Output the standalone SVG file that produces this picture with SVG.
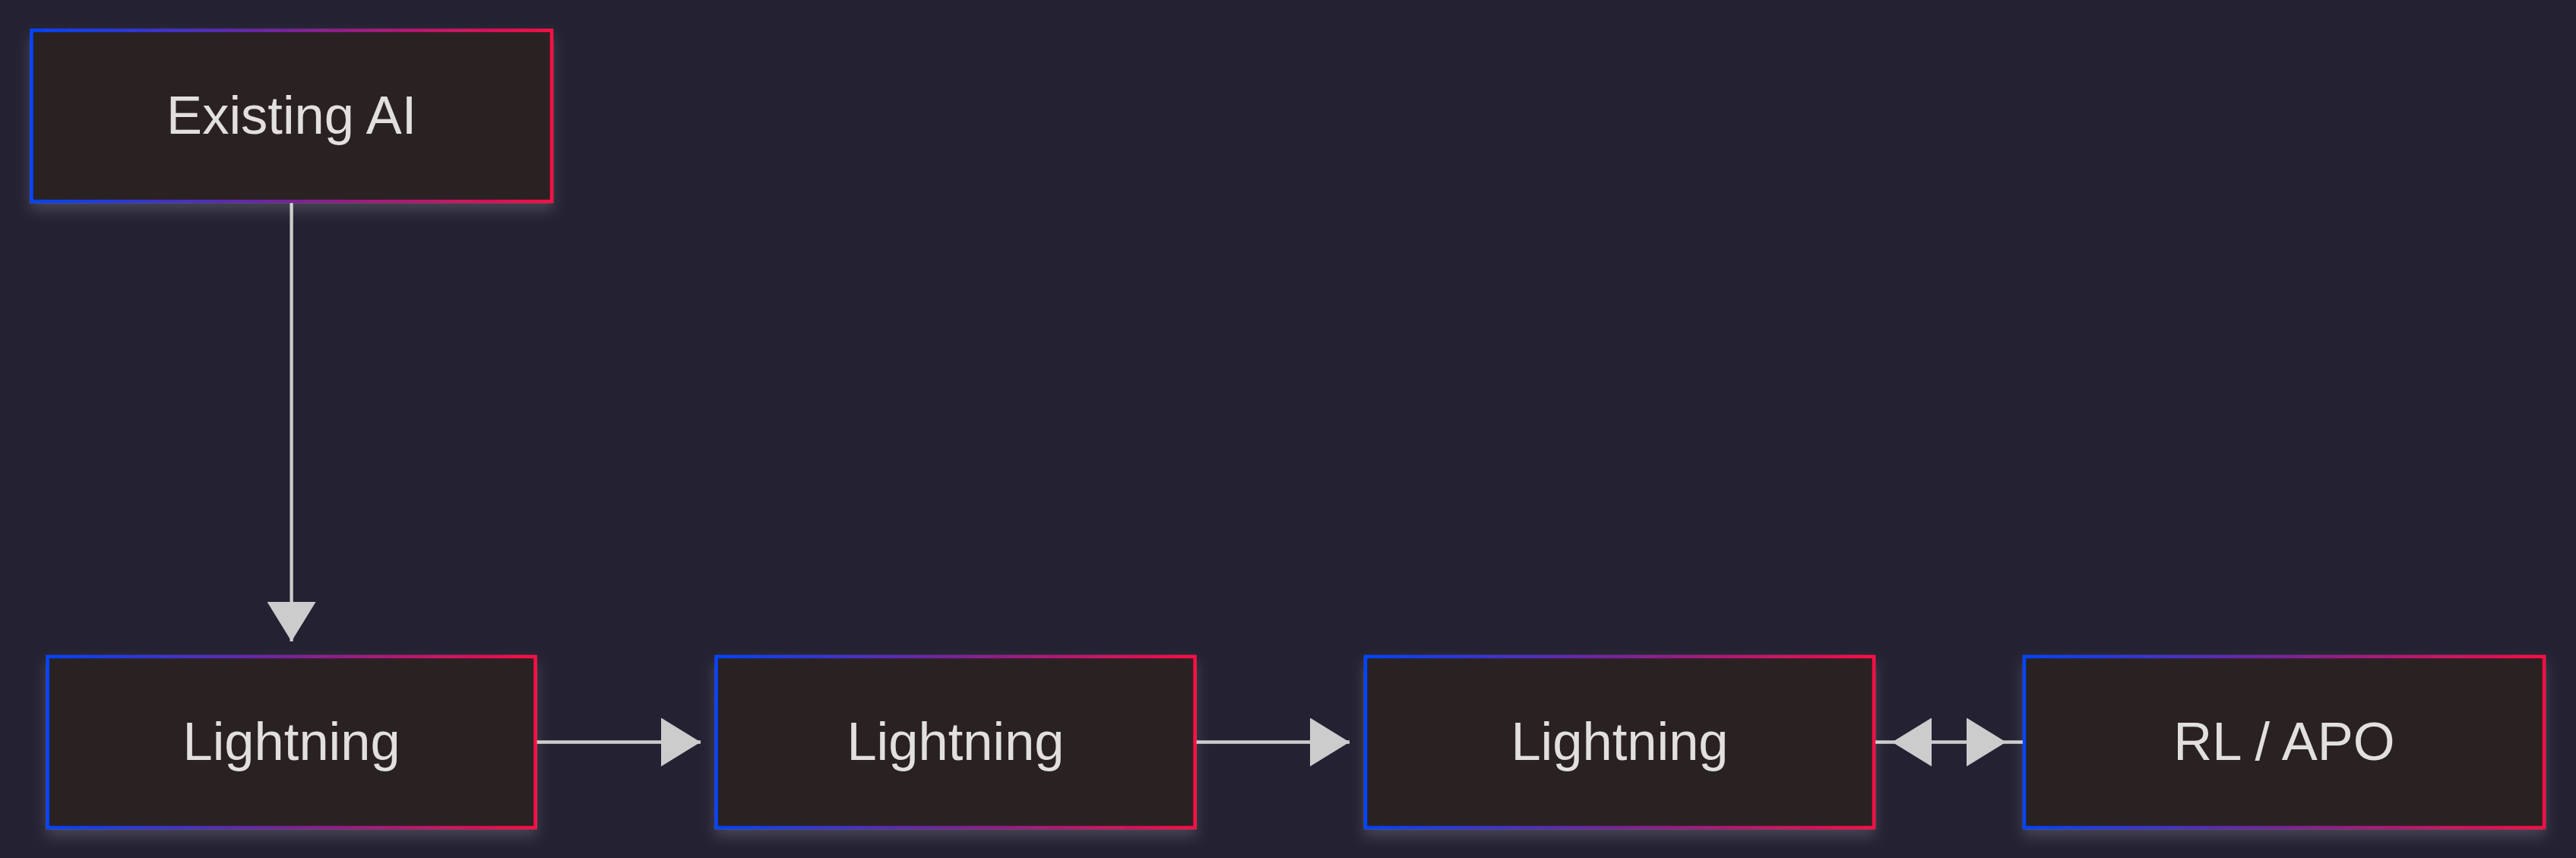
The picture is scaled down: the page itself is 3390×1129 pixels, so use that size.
<svg xmlns="http://www.w3.org/2000/svg" width="3390" height="1129" viewBox="0 0 3390 1129">
  <defs>
    <linearGradient id="edge" x1="0" y1="0" x2="1" y2="0">
      <stop offset="0" stop-color="#0044ff"/>
      <stop offset="0.5" stop-color="#7a2398"/>
      <stop offset="1" stop-color="#ff0a45"/>
    </linearGradient>
    <filter id="glow" x="-10%" y="-20%" width="120%" height="150%">
      <feDropShadow dx="0" dy="10" stdDeviation="9" flood-color="#ffffff" flood-opacity="0.16"/>
    </filter>
    <marker id="head" markerUnits="userSpaceOnUse" markerWidth="52" markerHeight="64" viewBox="0 0 52 64" refX="52" refY="32" orient="auto">
      <path d="M0,0 L52,32 L0,64 Z" fill="#cccccc"/>
    </marker>
    <marker id="headOff" markerUnits="userSpaceOnUse" markerWidth="52" markerHeight="64" viewBox="0 0 52 64" refX="76" refY="32" orient="auto-start-reverse">
      <path d="M0,0 L52,32 L0,64 Z" fill="#cccccc"/>
    </marker>
  </defs>
  <style>
    .box { fill: #2c2021; stroke: url(#edge); stroke-width: 4.5; filter: url(#glow); }
    .lbl { font-family: "Liberation Sans", Arial, sans-serif; font-size: 70.5px; fill: #e2dfdf; text-anchor: middle; }
    .edge { fill: none; stroke: #cccccc; stroke-width: 4.3; }
  </style>
  <rect x="0" y="0" width="3390" height="1129" fill="#232132"/>

  <g id="connectors">
    <path class="edge" d="M383.6,265 L383.6,844" marker-end="url(#head)"/>
    <path class="edge" d="M704.5,976.5 L922,976.5" marker-end="url(#head)"/>
    <path class="edge" d="M1572.5,976.5 L1776,976.5" marker-end="url(#head)"/>
    <path class="edge" d="M2466,976.5 L2664,976.5" marker-start="url(#headOff)" marker-end="url(#headOff)"/>
  </g>

  <g id="node-existing-ai">
    <rect class="box" x="41.5" y="40" width="684.5" height="225"/>
    <text class="lbl" x="383.7" y="176">Existing AI</text>
  </g>
  <g id="node-lightning-1">
    <rect class="box" x="62.7" y="864" width="641.8" height="225"/>
    <text class="lbl" x="383.6" y="1000">Lightning</text>
  </g>
  <g id="node-lightning-2">
    <rect class="box" x="942.6" y="864" width="629.9" height="225"/>
    <text class="lbl" x="1257.5" y="1000">Lightning</text>
  </g>
  <g id="node-lightning-3">
    <rect class="box" x="1797" y="864" width="669" height="225"/>
    <text class="lbl" x="2131.5" y="1000">Lightning</text>
  </g>
  <g id="node-rl-apo">
    <rect class="box" x="2664" y="864" width="684" height="225"/>
    <text class="lbl" x="3006" y="1000">RL / APO</text>
  </g>
</svg>
